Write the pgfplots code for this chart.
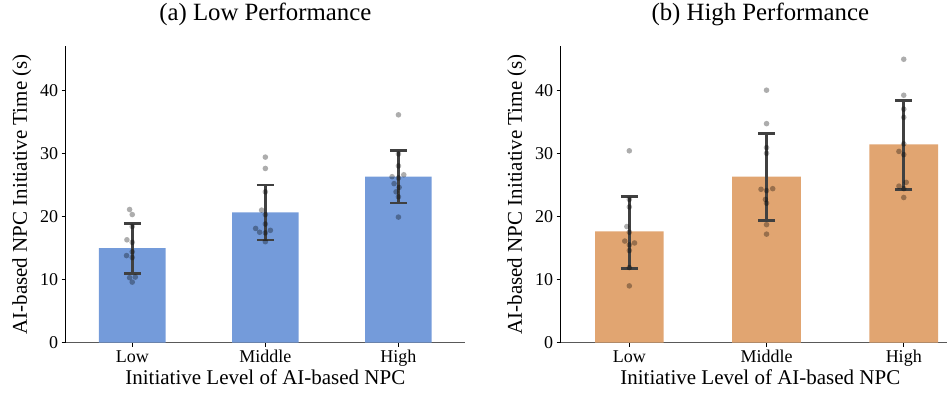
\documentclass[border=0pt]{standalone}
\usepackage{fontspec}
\setmainfont{Liberation Serif}
\usepackage{pgfplots}
\pgfplotsset{compat=1.18}
\definecolor{barblue}{HTML}{749BDA}
\definecolor{barorange}{HTML}{E1A571}
\definecolor{errgray}{HTML}{404040}
\pgfplotsset{
 myaxis/.style={
  scale only axis, width=399.3pt, height=296.7pt,
  ymin=0, ymax=47, xmin=-0.5,
  ytick={0,10,20,30,40},
  xtick={0,1,2}, xticklabels={Low,Middle,High},
  axis x line*=bottom, axis y line*=left,
  axis line style={line width=1pt},
  x axis line style={black!65},
  tick align=outside, major tick length=4pt,
  tick style={line width=0.8pt, black},
  /pgf/number format/assume math mode=true,
  tick label style={font=\fontsize{18}{18}\selectfont},
  label style={font=\fontsize{21}{21}\selectfont},
  title style={font=\fontsize{24.8}{24.8}\selectfont, at={(axis description cs:0.5,1)}, anchor=base, yshift=19pt},
  xlabel={Initiative Level of AI-based NPC},
  ylabel={AI-based NPC Initiative Time (s)},
  xlabel style={at={(axis description cs:0.5,0)}, anchor=base, yshift=-42pt},
  ylabel style={at={(axis description cs:-0.11,0.5)}, anchor=center},
  clip=false,
 },
 pts/.style={only marks, mark=*, mark size=2.8pt, color=black, mark options={draw opacity=0, fill=black, fill opacity=0.32}},
 errs/.style={draw=none, mark=none, error bars/.cd, y dir=both, y explicit,
   error bar style={line width=2.6pt, draw=errgray},
   error mark options={draw=errgray, line width=2.6pt, mark size=8.5pt, rotate=90}},
}
\begin{document}
\begin{tikzpicture}
\useasboundingbox (0,0) rectangle (947pt,394pt);
\begin{axis}[myaxis, at={(65.7pt,51.3pt)}, anchor=south west, xmax=2.5, title={(a) Low Performance}]
\addplot[ybar, bar width=0.5, bar shift=0pt, fill=barblue, draw=none] coordinates {(0,15.0) (1,20.65) (2,26.3)};
\addplot[pts] coordinates {
(-0.02,21.1) (0,20.3) (0,18.4) (-0.04,16.3) (0,15.9) (0,14.4) (-0.043,13.8) (0,13.5) (-0.02,10.3) (0.023,10.4) (0,9.6)
(1,29.4) (1,27.6) (1,23.9) (0.972,21.0) (1,20.3) (1,18.8) (0.927,18.1) (0.957,17.5) (1.038,17.8) (1,17.4) (1,16.0)
(2,36.1) (2,29.9) (2,28.0) (2.04,26.6) (1.952,26.3) (2,26.1) (1.967,25.2) (2.005,24.6) (1.982,23.9) (2,23.1) (2,19.9)
};
\addplot[errs] coordinates {(0,14.91) +- (0,3.95) (1,20.65) +- (0,4.35) (2,26.3) +- (0,4.15)};
\end{axis}
\begin{axis}[myaxis, at={(560.7pt,51.3pt)}, anchor=south west, xmax=2.41, title={(b) High Performance}]
\addplot[ybar, bar width=0.5, bar shift=0pt, fill=barorange, draw=none] coordinates {(0,17.64) (1,26.3) (2,31.4)};
\addplot[pts] coordinates {
(0,30.4) (0,22.7) (0,21.5) (-0.018,18.4) (0,17.5) (-0.033,16.1) (0.038,15.8) (0,15.5) (0,14.6) (0,11.9) (0,9.0)
(1,40.0) (1,34.7) (1,30.9) (1,30.0) (0.96,24.3) (1.045,24.4) (1,24.1) (0.992,22.7) (1,22.1) (1,18.7) (1,17.2)
(2,44.9) (2,39.2) (2,37.0) (2,35.7) (2,31.5) (1.965,30.3) (2,29.8) (1.965,24.8) (2.018,25.4) (2,24.4) (2,23.0)
};
\addplot[errs] coordinates {(0,17.47) +- (0,5.72) (1,26.25) +- (0,6.85) (2,31.35) +- (0,7.05)};
\end{axis}
\end{tikzpicture}
\end{document}
